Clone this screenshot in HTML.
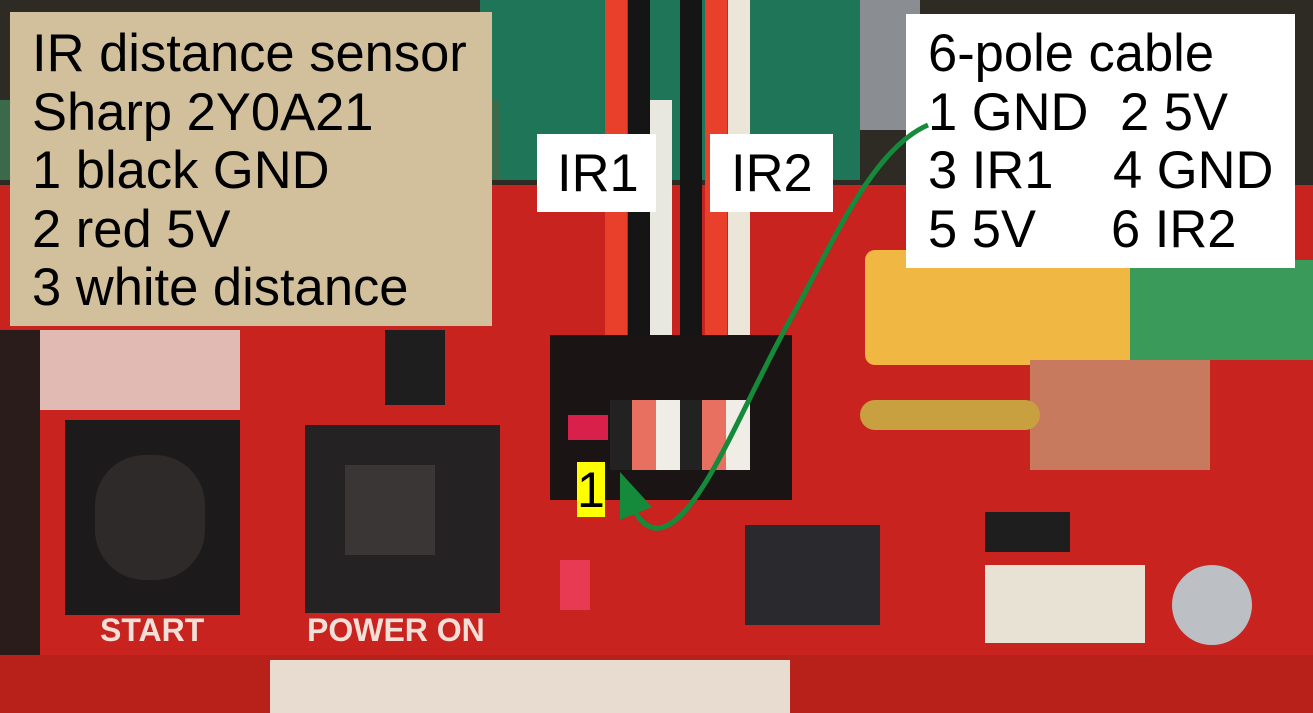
<!DOCTYPE html>
<html><head><meta charset="utf-8"><style>
body{margin:0;width:1313px;height:713px;overflow:hidden;position:relative;background:#c42a22;font-family:"Liberation Sans",sans-serif}
div{position:absolute;box-sizing:border-box}
.t{font-size:52.5px;color:#000;line-height:58.5px;white-space:pre}
</style></head><body>
<div style="left:0;top:0;width:1313px;height:185px;background:#2e2a24"></div>
<div style="left:480px;top:0;width:380px;height:180px;background:#1f7558"></div>
<div style="left:860px;top:0;width:60px;height:130px;background:#8a8e92"></div>
<div style="left:0;top:100px;width:500px;height:80px;background:#3a6a4a"></div>
<div style="left:0;top:185px;width:1313px;height:470px;background:#c8231f"></div>
<div style="left:0;top:330px;width:40px;height:330px;background:#2a1c1a"></div>
<div style="left:0;top:655px;width:1313px;height:58px;background:#b8201a"></div>
<div style="left:270px;top:660px;width:520px;height:53px;background:#e8dcd0"></div>
<div style="left:40px;top:330px;width:200px;height:80px;background:#e6e0d8;opacity:.8"></div>
<div style="left:605px;top:0;width:22px;height:400px;background:#e8402a"></div>
<div style="left:628px;top:0;width:22px;height:400px;background:#151515"></div>
<div style="left:650px;top:100px;width:22px;height:300px;background:#e8e8e0"></div>
<div style="left:680px;top:0;width:22px;height:400px;background:#151515"></div>
<div style="left:705px;top:0;width:22px;height:400px;background:#e8402a"></div>
<div style="left:728px;top:0;width:22px;height:400px;background:#ece6d8"></div>
<div style="left:550px;top:335px;width:242px;height:165px;background:#1a1414"></div>
<div style="left:568px;top:415px;width:40px;height:25px;background:#d8204a"></div>
<div style="left:610px;top:400px;width:140px;height:70px;background:repeating-linear-gradient(90deg,#222 0 22px,#e87060 22px 46px,#f0ece6 46px 70px)"></div>
<div style="left:65px;top:420px;width:175px;height:195px;background:#1c1a1a"></div>
<div style="left:95px;top:455px;width:110px;height:125px;border-radius:50px;background:#2e2a2a"></div>
<div style="left:305px;top:425px;width:195px;height:188px;background:#242222"></div>
<div style="left:345px;top:465px;width:90px;height:90px;background:#3a3636"></div>
<div style="left:385px;top:330px;width:60px;height:75px;background:#1e1e1e"></div>
<div style="left:100px;top:612px;color:#f2e0d8;font-size:32px;font-weight:bold">START</div>
<div style="left:307px;top:612px;color:#f2e0d8;font-size:32px;font-weight:bold">POWER ON</div>
<div style="left:865px;top:250px;width:315px;height:115px;background:#f0b842;border-radius:10px"></div>
<div style="left:1130px;top:260px;width:183px;height:100px;background:#3a9a5a"></div>
<div style="left:1030px;top:360px;width:180px;height:110px;background:#c87a5e"></div>
<div style="left:860px;top:400px;width:180px;height:30px;background:#c8a040;border-radius:15px"></div>
<div style="left:745px;top:525px;width:135px;height:100px;background:#2a2a2e"></div>
<div style="left:985px;top:565px;width:160px;height:78px;background:#e8e2d4"></div>
<div style="left:985px;top:512px;width:85px;height:40px;background:#1e1e1e"></div>
<div style="left:1172px;top:565px;width:80px;height:80px;border-radius:50%;background:#bcc0c4"></div>
<div style="left:560px;top:560px;width:30px;height:50px;background:#f04060;opacity:.8"></div>
<div style="left:10px;top:12px;width:482px;height:314px;background:#d2c09c"></div>
<div class="t" style="left:32px;top:25px">IR distance sensor
Sharp 2Y0A21
1 black GND
2 red 5V
3 white distance</div>
<div style="left:906px;top:14px;width:389px;height:254px;background:#fff"></div>
<div class="t" style="left:928px;top:25px">6-pole cable
1 GND
3 IR1
5 5V</div>
<div class="t" style="left:1120px;top:83.5px">2 5V</div>
<div class="t" style="left:1113px;top:142px">4 GND</div>
<div class="t" style="left:1111px;top:200.5px">6 IR2</div>
<div style="left:537px;top:134px;width:119px;height:78px;background:#fff"></div>
<div class="t" style="left:557px;top:145px">IR1</div>
<div style="left:710px;top:134px;width:123px;height:78px;background:#fff"></div>
<div class="t" style="left:731px;top:145px">IR2</div>
<div style="left:577px;top:462px;width:28px;height:55px;background:#ffff00"></div>
<div class="t" style="left:577px;top:461px;font-size:50px">1</div>
<svg style="position:absolute;left:0;top:0" width="1313" height="713">
<path d="M928,125 C870,150 830,250 790,320 C740,410 700,520 660,528 C645,530 635,515 630,500" fill="none" stroke="#148a3a" stroke-width="5"/>
<polygon points="620,472 620,520 652,507" fill="#148a3a"/>
</svg>
</body></html>
